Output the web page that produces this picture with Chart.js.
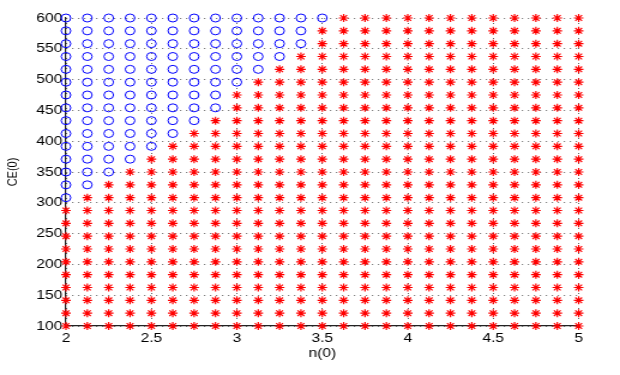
<!DOCTYPE html>
<html>
<head>
<meta charset="utf-8">
<script src="https://cdn.jsdelivr.net/npm/chart.js@4/dist/chart.umd.min.js"></script>
<style>
  html, body { margin: 0; padding: 0; background: #fff; }
  #plot { display: block; width: 620px; height: 375px; }
</style>
</head>
<body>
<!-- drawn at 517 wide, shown at 620 wide: the reference is stretched sideways -->
<canvas id="plot" width="517" height="375" style="width:620px;height:375px"></canvas>
<script>
// n(0) grid (columns) and CE(0) grid (rows, bottom to top)
const nValues = [2, 2.125, 2.25, 2.375, 2.5, 2.625, 2.75, 2.875, 3, 3.125, 3.25, 3.375, 3.5,
    3.625, 3.75, 3.875, 4, 4.125, 4.25, 4.375, 4.5, 4.625, 4.75, 4.875, 5];
const ceValues = [100, 120.83, 141.67, 162.5, 183.33, 204.17, 225, 245.83, 266.67, 287.5,
    308.33, 329.17, 350, 370.83, 391.67, 412.5, 433.33, 454.17, 475, 495.83,
    516.67, 537.5, 558.33, 579.17, 600];
// how many leading n(0) values in each CE(0) row are drawn as "o"
const circleCount = [0, 0, 0, 0, 0, 0, 0, 0, 0, 0,
    1, 2, 3, 4, 5, 6, 7, 8, 8, 9, 10, 11, 12, 12, 13];

const xTicks = [2, 2.5, 3, 3.5, 4, 4.5, 5];
const yTicks = [100, 150, 200, 250, 300, 350, 400, 450, 500, 550, 600];

const circlePts = [];
const starPts = [];
ceValues.forEach((ce, row) => {
    nValues.forEach((n, col) => {
        if (col < circleCount[row]) {
            circlePts.push({ x: n, y: ce });
        } else {
            starPts.push({ x: n, y: ce });
        }
    });
});

const font = { family: "'Liberation Sans', Arial, sans-serif", size: 13 };
const gridBorder = { display: true, color: "#222", width: 1.2, dash: [1, 4] };

new Chart(document.getElementById("plot"), {
    type: "scatter",
    data: {
        datasets: [
            {
                data: circlePts,
                pointStyle: "circle",
                pointRadius: 4,
                pointBackgroundColor: "rgba(0,0,0,0)",
                pointBorderColor: "#0000ff",
                pointBorderWidth: 1,
                clip: false,
            },
            {
                data: starPts,
                pointStyle: "star",
                pointRadius: 4,
                pointBorderColor: "#ff0000",
                pointBorderWidth: 1.2,
                clip: false,
            },
        ],
    },
    options: {
        responsive: false,
        animation: false,
        events: [],
        layout: { padding: { left: 0, right: 34.5, top: 18, bottom: 10 } },
        plugins: {
            legend: { display: false },
            tooltip: { enabled: false },
        },
        scales: {
            x: {
                type: "linear",
                min: 2,
                max: 5,
                afterBuildTicks: (s) => { s.ticks = xTicks.map((v) => ({ value: v })); },
                afterFit: (s) => { s.height = 39; },
                ticks: { color: "#000", font, padding: 5, maxRotation: 0, callback: (v) => String(v) },
                grid: { color: "#666", drawTicks: false },
                border: gridBorder,
                title: { display: true, text: "n(0)", color: "#000", font, padding: { top: 0, bottom: 4 } },
            },
            y: {
                type: "linear",
                min: 100,
                max: 600,
                afterBuildTicks: (s) => { s.ticks = yTicks.map((v) => ({ value: v })); },
                afterFit: (s) => { s.width = 55; },
                ticks: { color: "#000", font, padding: 3, callback: (v) => String(v) },
                grid: { color: "#666", drawTicks: false },
                border: gridBorder,
                title: { display: true, text: "CE(0)", color: "#000",
                    font: { family: font.family, size: 11 }, padding: { top: 4, bottom: 0 } },
            },
        },
    },
});
</script>
</body>
</html>
